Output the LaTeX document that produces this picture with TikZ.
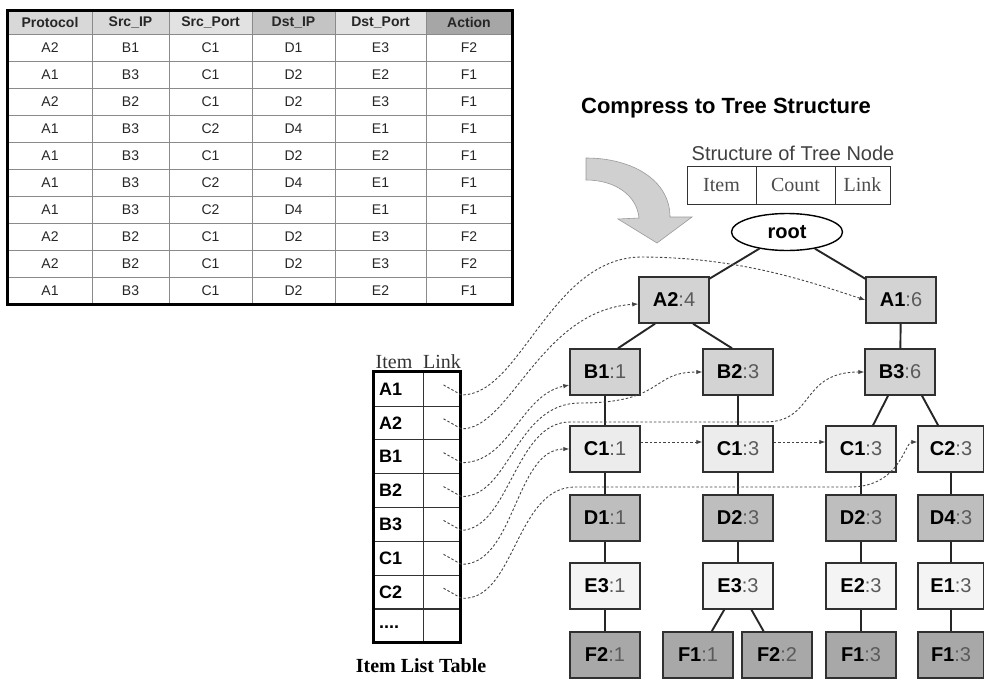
\documentclass[tikz,border=0pt]{standalone}
\usepackage{fontspec}
\setmainfont{Liberation Serif}
\setsansfont{Liberation Sans}
\usetikzlibrary{shapes.geometric,arrows.meta,calc}
\definecolor{gridgray}{HTML}{8A8A8A}
\definecolor{hdrlight}{HTML}{D8D8D8}
\definecolor{hdrlighter}{HTML}{E2E2E2}
\definecolor{hdrmid}{HTML}{C4C4C4}
\definecolor{hdrdark}{HTML}{A6A6A6}
\definecolor{fillAB}{HTML}{D3D3D3}
\definecolor{fillC}{HTML}{ECECEC}
\definecolor{fillD}{HTML}{BEBEBE}
\definecolor{fillE}{HTML}{F4F4F4}
\definecolor{fillF}{HTML}{A8A8A8}
\definecolor{nodeborder}{HTML}{303030}
\definecolor{cntgray}{HTML}{5A5A5A}
\definecolor{linkgray}{HTML}{444444}
\definecolor{arrowfill}{HTML}{D0D0D0}
\definecolor{arrowdraw}{HTML}{9A9A9A}
\newcommand\myfs[1]{\fontsize{#1}{#1}\selectfont}
\newcommand\tl[2]{\textbf{#1}\textcolor{cntgray}{:#2}}
\begin{document}
\begin{tikzpicture}[x=1pt,y=-1pt,
  cell/.style={draw=gridgray,line width=0.7pt,minimum height=27pt,inner sep=0pt,font=\sffamily\myfs{14},text=black!85},
  hcell/.style={cell,minimum height=23pt,font=\sffamily\bfseries\myfs{14},text=black!85},
  tnode/.style={draw=nodeborder,line width=1.5pt,minimum width=70pt,minimum height=46pt,inner sep=0pt,font=\sffamily\myfs{20}},
  nAB/.style={tnode,fill=fillAB},
  nC/.style={tnode,fill=fillC},
  nD/.style={tnode,fill=fillD},
  nE/.style={tnode,fill=fillE},
  nF/.style={tnode,fill=fillF},
  edge/.style={line width=1.9pt,black!85},
  link/.style={draw=linkgray,line width=0.9pt,dash pattern=on 2.5pt off 2pt,-{Latex[length=6pt,width=4.5pt]}},
  icell/.style={draw=black!80,line width=0.7pt,minimum height=33.875pt,inner sep=0pt},
  itemcell/.style={icell,minimum width=49pt,text width=39pt,inner xsep=5pt,align=left,font=\sffamily\bfseries\myfs{18}},
  snode/.style={draw=black!80,line width=0.8pt,minimum height=38pt,inner sep=0pt,font=\myfs{20},text=black!70}
]
\useasboundingbox (0,0) rectangle (984,680);

% ---------- rule table ----------
\node[hcell,fill=hdrlight,minimum width=84pt] (t-h-1) at (50,22.5) {Protocol};
\node[hcell,fill=hdrlight,minimum width=77pt] (t-h-2) at (130.5,22.5) {Src\_IP};
\node[hcell,fill=hdrlighter,minimum width=83pt] (t-h-3) at (210.5,22.5) {Src\_Port};
\node[hcell,fill=hdrmid,minimum width=83pt] (t-h-4) at (293.5,22.5) {Dst\_IP};
\node[hcell,fill=hdrlighter,minimum width=91pt] (t-h-5) at (380.5,22.5) {Dst\_Port};
\node[hcell,fill=hdrdark,minimum width=86pt] (t-h-6) at (469,22.5) {Action};
\foreach \r/\a/\b/\c/\d/\e/\f in {1/A2/B1/C1/D1/E3/F2, 2/A1/B3/C1/D2/E2/F1, 3/A2/B2/C1/D2/E3/F1,
  4/A1/B3/C2/D4/E1/F1, 5/A1/B3/C1/D2/E2/F1, 6/A1/B3/C2/D4/E1/F1, 7/A1/B3/C2/D4/E1/F1,
  8/A2/B2/C1/D2/E3/F2, 9/A2/B2/C1/D2/E3/F2, 10/A1/B3/C1/D2/E2/F1}{
  \pgfmathsetmacro\yy{20.5+27*\r}
  \node[cell,minimum width=84pt] (t-\r-1) at (50,\yy) {\a};
  \node[cell,minimum width=77pt] (t-\r-2) at (130.5,\yy) {\b};
  \node[cell,minimum width=83pt] (t-\r-3) at (210.5,\yy) {\c};
  \node[cell,minimum width=83pt] (t-\r-4) at (293.5,\yy) {\d};
  \node[cell,minimum width=91pt] (t-\r-5) at (380.5,\yy) {\e};
  \node[cell,minimum width=86pt] (t-\r-6) at (469,\yy) {\f};
}
\draw[line width=2.4pt] (t-h-1.north west) rectangle (t-10-6.south east);

% ---------- big curved arrow ----------
\draw[fill=arrowfill,draw=arrowdraw,line width=0.6pt]
  (586,158) .. controls (632,158) and (670,180) .. (670,217)
  -- (692,217) -- (657,243) -- (618,219) -- (639,218)
  .. controls (637,196) and (616,180) .. (586,180) -- cycle;

% ---------- titles ----------
\node[font=\sffamily\bfseries\myfs{22},inner sep=0pt] (title) at (726,108) {Compress to Tree Structure};
\node[font=\sffamily\myfs{20},text=black!75,inner sep=0pt] (stitle) at (793,153) {Structure of Tree Node};
\node[snode,minimum width=69pt] (s-item) at (721.5,185) {Item};
\node[snode,minimum width=79pt] (s-count) at (795.5,185) {Count};
\node[snode,minimum width=55pt] (s-link) at (862.5,185) {Link};

% ---------- tree ----------
\node[ellipse,draw=black,line width=1.4pt,minimum width=111pt,minimum height=37pt,inner sep=0pt,font=\sffamily\bfseries\myfs{20}] (root) at (787,232) {root};
\node[nAB] (A2) at (674,300) {\tl{A2}{4}};
\node[nAB] (A1) at (901,300) {\tl{A1}{6}};
\node[nAB] (B1) at (605,372) {\tl{B1}{1}};
\node[nAB] (B2) at (738,372) {\tl{B2}{3}};
\node[nAB] (B3) at (900,372) {\tl{B3}{6}};
\node[nC] (C1a) at (605,449) {\tl{C1}{1}};
\node[nC] (C1b) at (738,449) {\tl{C1}{3}};
\node[nC] (C1c) at (861,449) {\tl{C1}{3}};
\node[nC,minimum width=66pt] (C2) at (951,449) {\tl{C2}{3}};
\node[nD] (D1) at (605,518) {\tl{D1}{1}};
\node[nD] (D2a) at (738,518) {\tl{D2}{3}};
\node[nD] (D2b) at (861,518) {\tl{D2}{3}};
\node[nD,minimum width=66pt] (D4) at (951,518) {\tl{D4}{3}};
\node[nE] (E3a) at (605,586) {\tl{E3}{1}};
\node[nE] (E3b) at (738,586) {\tl{E3}{3}};
\node[nE] (E2) at (861,586) {\tl{E2}{3}};
\node[nE,minimum width=66pt] (E1) at (951,586) {\tl{E1}{3}};
\node[nF] (F2a) at (605,655) {\tl{F2}{1}};
\node[nF] (F1a) at (698,655) {\tl{F1}{1}};
\node[nF] (F2b) at (777,655) {\tl{F2}{2}};
\node[nF] (F1b) at (861,655) {\tl{F1}{3}};
\node[nF,minimum width=66pt] (F1c) at (951,655) {\tl{F1}{3}};

\draw[edge] (root) -- (A2);
\draw[edge] (root) -- (A1);
\draw[edge] ([xshift=-19pt]A2.south) -- ([xshift=13pt]B1.north);
\draw[edge] ([xshift=19pt]A2.south) -- ([xshift=-6pt]B2.north);
\draw[edge] (A1) -- (B3);
\draw[edge] ([xshift=-12pt]B3.south) -- (C1c);
\draw[edge] ([xshift=22pt]B3.south) -- (C2);
\draw[edge] (B1) -- (C1a);
\draw[edge] (B2) -- (C1b);
\draw[edge] (C1a) -- (D1);
\draw[edge] (C1b) -- (D2a);
\draw[edge] (C1c) -- (D2b);
\draw[edge] (C2) -- (D4);
\draw[edge] (D1) -- (E3a);
\draw[edge] (D2a) -- (E3b);
\draw[edge] (D2b) -- (E2);
\draw[edge] (D4) -- (E1);
\draw[edge] (E3a) -- (F2a);
\draw[edge] (E3b) -- (F1a);
\draw[edge] (E3b) -- (F2b);
\draw[edge] (E2) -- (F1b);
\draw[edge] (E1) -- (F1c);

% ---------- item list table ----------
\node[font=\myfs{20},text=black!80,inner sep=0pt] (hitem) at (394,362) {Item};
\node[font=\myfs{20},text=black!80,inner sep=0pt] (hlink) at (442,362) {Link};
\foreach \k/\lab in {1/A1,2/A2,3/B1,4/B2,5/B3,6/C1,7/C2}{
  \pgfmathsetmacro\yy{372+33.875*(\k-0.5)}
  \node[itemcell] (i-\k) at (398.5,\yy) {\lab};
  \node[icell,minimum width=37pt] (l-\k) at (441.5,\yy) {};
}
\node[itemcell] (i-8) at (398.5,625.06) {\raisebox{-7pt}{....}};
\node[icell,minimum width=37pt] (l-8) at (441.5,625.06) {};
\draw[line width=2.4pt] (i-1.north west) rectangle (l-8.south east);
\node[font=\bfseries\myfs{20},inner sep=0pt] (ilt) at (421,666) {Item List Table};

% ---------- link connectors ----------
\foreach \k in {1,2,3,4,5,6,7}{
  \coordinate (s-\k) at ($(l-\k.center)+(2,-4)$);
  \coordinate (e-\k) at ($(l-\k.east)+(1,6)$);
}
\draw[link] (s-1) -- (e-1) .. controls (520,396) and (550,259) .. (640,257)
  .. controls (740,257) and (810,282) .. (A1.west);
\draw[link] (s-2) -- (e-2) .. controls (510,430) and (540,310) .. ([yshift=-4pt]A2.west);
\draw[link] (s-3) -- (e-3) .. controls (510,463) and (520,395) .. ([yshift=-13pt]B1.west);
\draw[link] (s-4) -- (e-4) .. controls (510,497) and (515,403) .. (580,403)
  .. controls (665,403) and (650,372) .. (B2.west);
\draw[link] (s-5) -- (e-5) .. controls (510,528) and (515,422) .. (570,422) -- (765,422)
  .. controls (815,422) and (800,372) .. (B3.west);
\draw[link] (s-6) -- (e-6) .. controls (515,565) and (515,449) .. (C1a.west);
\draw[link] (s-7) -- (e-7) .. controls (515,602) and (515,487) .. (575,487) -- (850,487)
  .. controls (900,487) and (905,442) .. ([yshift=7pt]C2.west);
\draw[link] ([yshift=7pt]C1a.east) -- ([yshift=7pt]C1b.west);
\draw[link] ([yshift=7pt]C1b.east) -- ([yshift=7pt]C1c.west);
\end{tikzpicture}
\end{document}
